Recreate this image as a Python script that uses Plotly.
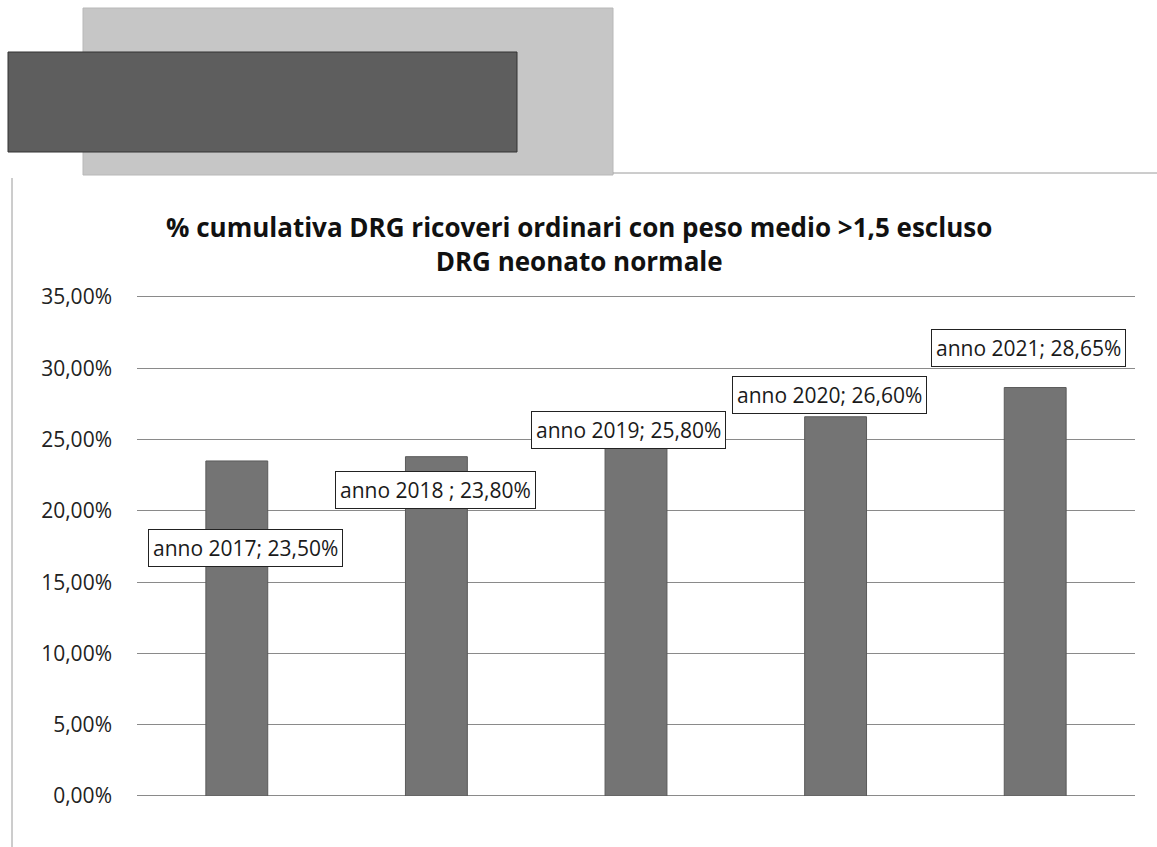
import plotly.graph_objects as go

# ---- data ----
categories = ["anno 2017", "anno 2018 ", "anno 2019", "anno 2020", "anno 2021"]
values = [23.50, 23.80, 25.80, 26.60, 28.65]
tick_values = [0, 5, 10, 15, 20, 25, 30, 35]
tick_labels = ["0,00%", "5,00%", "10,00%", "15,00%", "20,00%", "25,00%", "30,00%", "35,00%"]
title_lines = ["% cumulativa DRG ricoveri ordinari con peso medio >1,5 escluso",
               "DRG neonato normale"]

# ---- style / label placement (pixels) ----
label_xshift = [9, -1, -8, -6, -7]
label_yshift = [-87, -33, -2, 22, 40]

W, H = 1157, 847
def px(x):
    return x / W
def py(y):
    return 1 - y / H

Y_TOP = 35.4
PX_PER_UNIT = (796 - 297) / 35.0

fig = go.Figure()
fig.add_trace(go.Bar(
    x=categories, y=values,
    marker=dict(color="#747474", line=dict(color="#5a5a5a", width=1)),
    width=0.31, hoverinfo="skip",
))

annotations = []
for c, v, dx, dy in zip(categories, values, label_xshift, label_yshift):
    txt = f"{c}; {v:.2f}%".replace(".", ",")
    annotations.append(dict(
        x=c, y=v, xref="x", yref="y", text=txt, showarrow=False,
        xshift=dx, yshift=dy,
        font=dict(family="Open Sans, sans-serif", size=21, color="#1a1a1a"),
        bgcolor="white", bordercolor="#222", borderwidth=1, borderpad=4,
    ))

annotations.append(dict(
    x=px(579), y=py(244), xref="paper", yref="paper", yanchor="middle",
    text="<b>" + title_lines[0] + "</b><br><b>" + title_lines[1] + "</b>",
    showarrow=False, align="center",
    font=dict(family="Open Sans, sans-serif", size=26, color="#111"),
))

shapes = [
    # redaction boxes
    dict(type="rect", xref="paper", yref="paper", x0=px(83), x1=px(613), y0=py(175), y1=py(8),
         fillcolor="#c6c6c6", line=dict(color="#b8b8b8", width=1), layer="above"),
    dict(type="rect", xref="paper", yref="paper", x0=px(8), x1=px(517), y0=py(152), y1=py(52),
         fillcolor="#5e5e5e", line=dict(color="#333", width=1), layer="above"),
    # chart border
    dict(type="line", xref="paper", yref="paper", x0=px(613), x1=px(1157), y0=py(173), y1=py(173),
         line=dict(color="#9a9a9a", width=1)),
    dict(type="line", xref="paper", yref="paper", x0=px(12), x1=px(12), y0=py(178), y1=py(847),
         line=dict(color="#9a9a9a", width=1)),
]

top_px = 796 - Y_TOP * PX_PER_UNIT

fig.update_layout(
    width=W, height=H,
    margin=dict(l=0, r=0, t=0, b=0, pad=0, autoexpand=False),
    paper_bgcolor="white", plot_bgcolor="white",
    showlegend=False,
    annotations=annotations, shapes=shapes,
    xaxis=dict(domain=[px(137), px(1135)], showticklabels=False, showgrid=False,
               zeroline=False, showline=False, ticks=""),
    yaxis=dict(domain=[py(796), py(top_px)], range=[0, Y_TOP], tickvals=tick_values,
               ticktext=tick_labels, showgrid=True, gridcolor="#8a8a8a", gridwidth=1,
               zeroline=True, zerolinecolor="#8a8a8a", zerolinewidth=1,
               showline=False, ticks="", ticklabelstandoff=24,
               tickfont=dict(family="Open Sans, sans-serif", size=21, color="#222")),
)

fig.write_html("out.html", config={"displayModeBar": False},
               post_script="document.body.style.margin='0';document.body.style.overflow='hidden';")
